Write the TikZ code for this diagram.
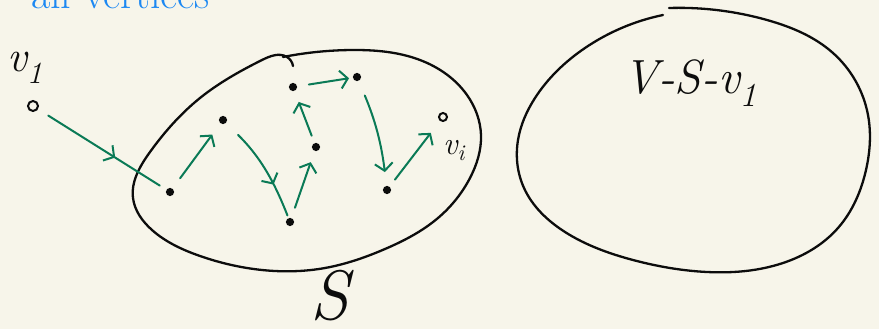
\documentclass[tikz,border=0pt]{standalone}
\usetikzlibrary{arrows.meta,decorations.markings,hobby}

\definecolor{paper}{RGB}{247,245,234}
\definecolor{ink}{RGB}{12,12,12}
\definecolor{pathgreen}{RGB}{10,122,86}
\definecolor{noteblue}{RGB}{28,136,242}

\begin{document}
\begin{tikzpicture}[x=1pt,y=-1pt,
  outline/.style={ink, line width=2.3pt, line cap=round, line join=round, use Hobby shortcut},
  vertex/.style={circle, draw=ink, fill=ink, line width=1.6pt, inner sep=0pt, minimum size=6.5pt},
  hop/.style={pathgreen, line width=2pt, line cap=round, -{Straight Barb[length=7.5pt,width=18pt]},
              shorten <=10pt, shorten >=10pt},
  midhop/.style={pathgreen, line width=2pt, line cap=round, shorten <=10pt, shorten >=8pt,
              postaction={decorate},
              decoration={markings, mark=at position #1 with {\arrow[pathgreen]{Straight Barb[length=7.5pt,width=18pt]}}}},
  hand/.style={ink, inner sep=0pt, font=\itshape}
]
  % page
  \useasboundingbox (0,0) rectangle (879,329);
  \clip (0,0) rectangle (879,329);
  \fill[paper] (0,0) rectangle (879,329);

  % note running off the top edge
  \node[noteblue, anchor=base west, inner sep=0pt, font=\fontsize{42}{42}\selectfont]
    (note) at (31,9) {all vertices};

  % the set S
  \draw[outline] (283,57) .. (353,50) .. (420,60) .. (467,95) .. (481,135) .. (470,178)
    .. (438,218) .. (385,249) .. (325,268) .. (262,270) .. (200,256) .. (152,230)
    .. (133,198) .. (150,152) .. (200,98) .. (262,60) .. (287,57) .. (293,66);
  \node[hand, font=\fontsize{70}{70}\selectfont\itshape] (slabel) at (330,296) {S};

  % the remaining vertices
  \draw[outline] (669,8) .. (767,20) .. (833,53) .. (868,115) .. (866,170) .. (838,228)
    .. (783,263) .. (707,272) .. (633,260) .. (565,232) .. (524,188) .. (518,140)
    .. (535,98) .. (585,48) .. (663,15);
  \node[hand, font=\fontsize{48}{48}\selectfont\itshape] (rest) at (690,83) {V-S-v\textsubscript{1}};

  % vertices
  \node[vertex, fill=paper, minimum size=10pt, line width=2pt] (v1) at (33,106) {};
  \node[vertex] (p1) at (170,192) {};
  \node[vertex] (p2) at (223,120) {};
  \node[vertex] (p3) at (290,222) {};
  \node[vertex] (p4) at (316,147) {};
  \node[vertex] (p5) at (293,87) {};
  \node[vertex] (p6) at (357,77) {};
  \node[vertex] (p7) at (387,190) {};
  \node[vertex, fill=paper, minimum size=8pt, line width=2pt] (vi) at (443,117) {};

  \node[hand, font=\fontsize{44}{44}\selectfont\itshape] (v1label) at (25,68) {v\textsubscript{1}};
  \node[hand, font=\fontsize{32}{32}\selectfont\itshape] (vilabel) at (454,151) {v\textsubscript{i}};

  % the path through S
  \draw[midhop=0.6, shorten <=12pt] (v1) -- (p1);
  \draw[hop, shorten <=13pt, shorten >=14pt] (p1) -- (p2);
  \draw[midhop=0.68, shorten <=17pt, shorten >=3pt] (p2) to[bend left=12] (p3);
  \draw[hop, shorten <=11pt, shorten >=12pt] (p3) -- (p4);
  \draw[hop, shorten <=8pt, shorten >=12pt] (p4) -- (p5);
  \draw[hop, shorten <=12pt, shorten >=4pt] (p5) -- (p6);
  \draw[hop, shorten <=16pt, shorten >=14pt] (p6) to[bend left=8] (p7);
  \draw[hop, shorten <=9pt, shorten >=15pt] (p7) -- (vi);
\end{tikzpicture}
\end{document}
